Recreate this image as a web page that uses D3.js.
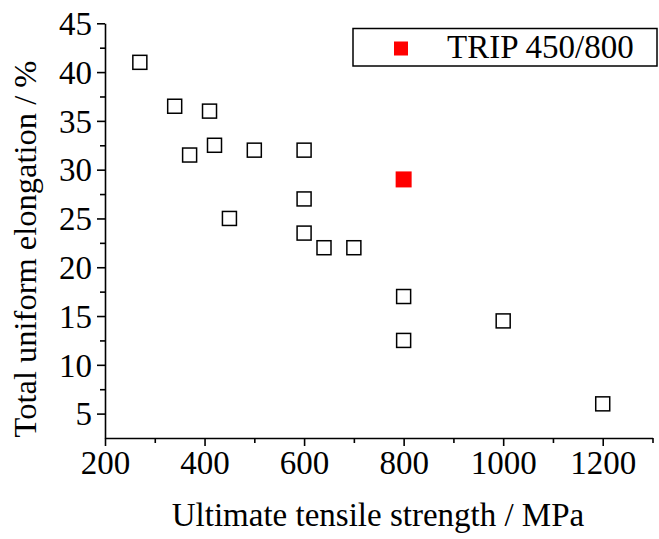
<!DOCTYPE html>
<html>
<head>
<meta charset="utf-8">
<script src="https://cdn.jsdelivr.net/npm/d3@7"></script>
<style>
  body { margin: 0; background: #fff; }
</style>
</head>
<body>
<div id="chart"></div>
<script>
// data
var strength   = [270, 340, 410, 420, 370, 500, 600, 450, 600, 600, 640, 700, 800, 800, 1000, 1200];
var elongation = [41, 36.5, 36, 32.5, 31.5, 32, 32, 25, 27, 23.5, 22, 22, 17, 12.5, 14.5, 6];
var tripStrength = [800];
var tripElongation = [29];
var tripLabel = "TRIP 450/800";

var xTicks = [200, 400, 600, 800, 1000, 1200];
var yTicks = [5, 10, 15, 20, 25, 30, 35, 40, 45];

var W = 659, H = 539;
var serif = "Liberation Serif";
var svg = d3.select("#chart").append("svg").attr("width", W).attr("height", H);

var x = d3.scaleLinear().domain([200, 1300]).range([105, 652.5]);
var y = d3.scaleLinear().domain([2.5, 45]).range([438, 23.3]);

var fs = 33;

// x axis (minor then major)
svg.append("g").attr("transform", "translate(0,438)")
  .call(d3.axisBottom(x).tickValues(d3.range(300, 1301, 200)).tickSize(5).tickFormat(""))
  .call(function (g) { g.select(".domain").remove(); });
var xa = svg.append("g").attr("transform", "translate(0,438)")
  .call(d3.axisBottom(x).tickValues(xTicks).tickSize(8).tickSizeOuter(0).tickPadding(5).tickFormat(d3.format("d")));

// y axis
svg.append("g").attr("transform", "translate(105,0)")
  .call(d3.axisLeft(y).tickValues(d3.range(7.5, 45, 5)).tickSize(5).tickFormat(""))
  .call(function (g) { g.select(".domain").remove(); });
var ya = svg.append("g").attr("transform", "translate(105,0)")
  .call(d3.axisLeft(y).tickValues(yTicks).tickSize(8).tickSizeOuter(0).tickPadding(5).tickFormat(d3.format("d")));
ya.selectAll("text").attr("dy", "0.34em");

svg.selectAll("g").attr("font-family", serif);
svg.selectAll(".domain, .tick line").attr("stroke", "#000").attr("stroke-width", 1.6);
svg.selectAll(".tick text").style("font-size", fs + "px").style("font-family", serif).attr("fill", "#000");

// axis titles
svg.append("text").attr("x", 378).attr("y", 526).attr("text-anchor", "middle")
  .style("font-family", serif).style("font-size", "33px").text("Ultimate tensile strength / MPa");
svg.append("text").attr("transform", "translate(36,249) rotate(-90)").attr("text-anchor", "middle")
  .style("font-family", serif).style("font-size", "32.5px").text("Total uniform elongation / %");

// open squares
var s = 14;
svg.append("g").selectAll("rect").data(strength).enter().append("rect")
  .attr("x", function (d) { return x(d) - s/2; })
  .attr("y", function (d, i) { return y(elongation[i]) - s/2; })
  .attr("width", s).attr("height", s)
  .attr("fill", "#fff").attr("stroke", "#000").attr("stroke-width", 1.5);

// TRIP point
svg.append("g").selectAll("rect").data(tripStrength).enter().append("rect")
  .attr("x", function (d) { return x(d) - 8; })
  .attr("y", function (d, i) { return y(tripElongation[i]) - 8; })
  .attr("width", 16).attr("height", 16)
  .attr("fill", "#ff0000");

// legend
var lg = svg.append("g");
lg.append("rect").attr("x", 353).attr("y", 28.5).attr("width", 304).attr("height", 37.5)
  .attr("fill", "#fff").attr("stroke", "#000").attr("stroke-width", 1.5);
lg.append("rect").attr("x", 394).attr("y", 41.5).attr("width", 14).attr("height", 14).attr("fill", "#ff0000");
lg.append("text").attr("x", 447).attr("y", 58).style("font-family", serif).style("font-size", "33px").text(tripLabel);
</script>
</body>
</html>
